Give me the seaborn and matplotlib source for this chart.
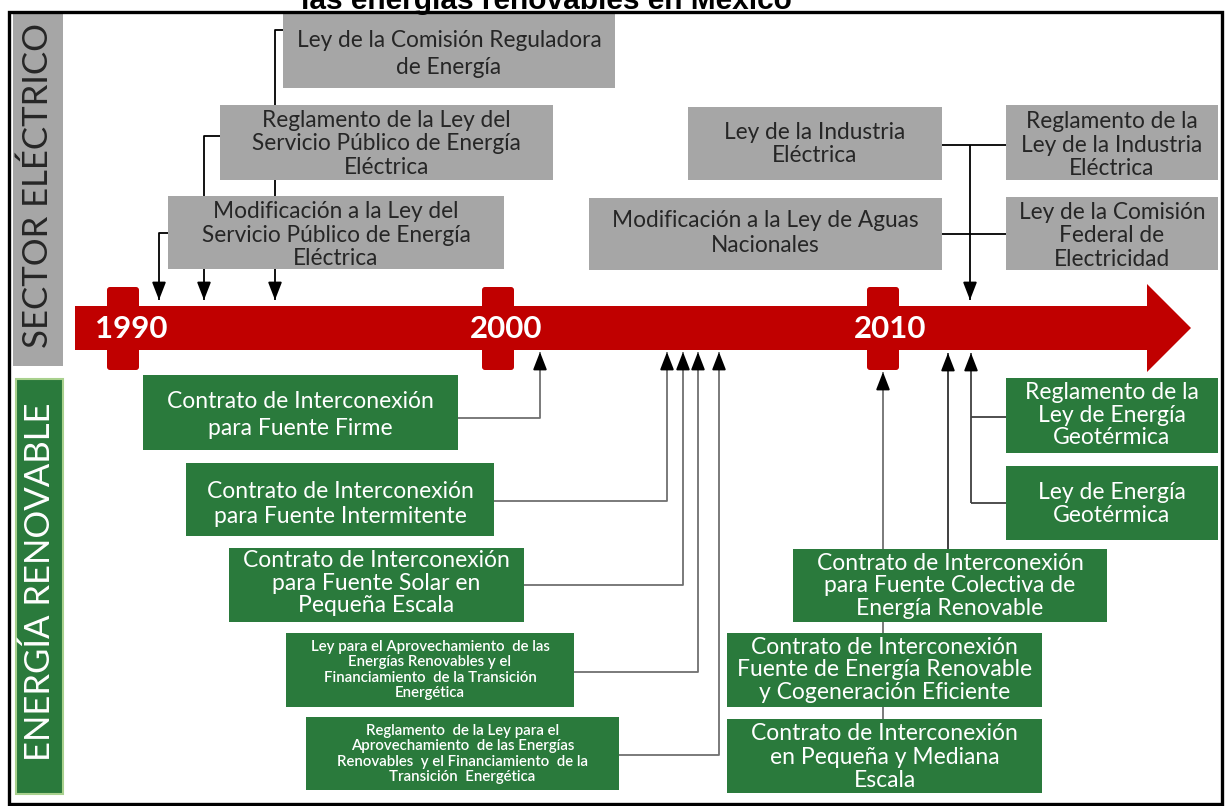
import matplotlib
matplotlib.use("Agg")
import matplotlib.pyplot as plt
from matplotlib.patches import Rectangle, Polygon, FancyBboxPatch
import seaborn as sns

sns.set_theme(style="white")
plt.rcParams["font.family"] = ["Lato", "DejaVu Sans"]

# ---------------- content ----------------
title_text = "las energías renovables en México"
years = ["1990", "2000", "2010"]
section_labels = ["SECTOR ELÉCTRICO", "ENERGÍA RENOVABLE"]

sector_electrico = [
    "Ley de la Comisión Reguladora\nde Energía",
    "Reglamento de la Ley del\nServicio Público de Energía\nEléctrica",
    "Modificación a la Ley del\nServicio Público de Energía\nEléctrica",
    "Ley de la Industria\nEléctrica",
    "Modificación a la Ley de Aguas\nNacionales",
    "Reglamento de la\nLey de la Industria\nEléctrica",
    "Ley de la Comisión\nFederal de\nElectricidad",
]

energia_renovable = [
    "Contrato de Interconexión\npara Fuente Firme",
    "Contrato de Interconexión\npara Fuente Intermitente",
    "Contrato de Interconexión\npara Fuente Solar en\nPequeña Escala",
    "Ley para el Aprovechamiento  de las\nEnergías Renovables y el\nFinanciamiento  de la Transición\nEnergética",
    "Reglamento  de la Ley para el\nAprovechamiento  de las Energías\nRenovables  y el Financiamiento  de la\nTransición  Energética",
    "Reglamento de la\nLey de Energía\nGeotérmica",
    "Ley de Energía\nGeotérmica",
    "Contrato de Interconexión\npara Fuente Colectiva de\nEnergía Renovable",
    "Contrato de Interconexión\nFuente de Energía Renovable\ny Cogeneración Eficiente",
    "Contrato de Interconexión\nen Pequeña y Mediana\nEscala",
]

# ---------------- layout (pixel space, y downwards) ----------------
year_cross_x = [123, 498, 883]
year_label_x = [131, 506, 890]

# (x0, y0, x1, y1, fontsize, linespacing, text_y)
gray_boxes = [
    (283, 14, 615, 88, 16.3, 1.4, 54),
    (220, 105, 553, 180, 16.3, 1.16, 144),
    (168, 196, 504, 269, 16.3, 1.12, 235),
    (688, 107, 942, 180, 16.3, 1.14, 144),
    (589, 198, 942, 270, 16.3, 1.18, 233),
    (1006, 105, 1218, 180, 16.3, 1.14, 145),
    (1006, 197, 1218, 270, 16.3, 1.12, 236),
]
green_boxes = [
    (143, 375, 458, 450, 16.5, 1.3, 415),
    (186, 463, 494, 536, 16.5, 1.22, 504),
    (229, 548, 524, 622, 16.5, 1.1, 583),
    (286, 633, 574, 707, 10.8, 1.12, 670),
    (306, 717, 619, 790, 10.8, 1.12, 754),
    (1006, 378, 1218, 453, 16.5, 1.1, 415),
    (1006, 466, 1218, 540, 16.5, 1.12, 504),
    (793, 549, 1107, 622, 16.5, 1.1, 586),
    (727, 633, 1042, 707, 16.5, 1.09, 670),
    (727, 719, 1042, 793, 16.5, 1.17, 757),
]

RED = "#c00000"
GRAY = "#a6a6a6"
GREEN = "#2a7a3c"
DARK = "#262626"
LINE_BOTTOM = "#707070"

fig = plt.figure(figsize=(12.26, 8.06), dpi=100)
ax = fig.add_axes([0, 0, 1, 1])
ax.set_xlim(0, 1226)
ax.set_ylim(806, 0)
ax.axis("off")

# title (cut by the top edge, as in the reference)
ax.text(546, 9, title_text, ha="center", va="baseline", fontsize=21.5,
        fontweight="bold", family=["Liberation Sans", "DejaVu Sans"],
        color="black", zorder=5, clip_on=False)

# frame
ax.add_patch(Rectangle((9, 12), 1213, 792, fill=False, ec="black", lw=2.4, zorder=6))

# side labels
ax.add_patch(Rectangle((13, 14), 50, 352, fc=GRAY, ec="none", zorder=2))
ax.text(38, 186, section_labels[0], rotation=90, ha="center", va="center",
        fontsize=25, color=DARK, zorder=3)
ax.add_patch(Rectangle((16, 379), 47, 415, fc=GREEN, ec="#a9d18e", lw=1.5, zorder=2))
ax.text(40, 582, section_labels[1], rotation=90, ha="center", va="center",
        fontsize=25, color="white", zorder=3)

# red timeline arrow
arrow_pts = [(75, 306), (1147, 306), (1147, 284), (1191, 328),
             (1147, 372), (1147, 350), (75, 350)]
ax.add_patch(Polygon(arrow_pts, closed=True, fc=RED, ec="none", zorder=2))
for cx in year_cross_x:
    ax.add_patch(FancyBboxPatch((cx - 16, 287), 32, 83,
                                boxstyle="round,pad=0,rounding_size=3",
                                fc=RED, ec="none", zorder=2))
for lx, yr in zip(year_label_x, years):
    ax.text(lx, 329, yr, ha="center", va="center", fontsize=22.5,
            fontweight="bold", color="white", zorder=3)


def connector(points, color, tip_color="black", lw=1.3):
    xs = [p[0] for p in points]
    ys = [p[1] for p in points]
    ax.plot(xs, ys, color=color, lw=lw, zorder=1, solid_capstyle="butt")
    (x1, y1), (x2, y2) = points[-2], points[-1]
    d = 1 if y2 > y1 else -1
    ax.annotate("", xy=(x2, y2), xytext=(x2, y2 - d * 12),
                arrowprops=dict(arrowstyle="-|>,head_length=0.9,head_width=0.35",
                                color=tip_color, lw=lw, shrinkA=0, shrinkB=0),
                zorder=4)


def plain(points, color, lw=1.3):
    ax.plot([p[0] for p in points], [p[1] for p in points], color=color,
            lw=lw, zorder=1, solid_capstyle="butt")


# top connectors
connector([(283, 30), (275, 30), (275, 300)], "black")
connector([(222, 136), (204, 136), (204, 300)], "black")
connector([(168, 233), (159, 233), (159, 300)], "black")
plain([(942, 145), (1006, 145)], "black")
plain([(942, 234), (1006, 234)], "black")
connector([(970, 145), (970, 300)], "black")

# bottom connectors
connector([(458, 418), (540, 418), (540, 352)], LINE_BOTTOM)
connector([(494, 501), (667, 501), (667, 352)], LINE_BOTTOM)
connector([(524, 585), (683, 585), (683, 352)], LINE_BOTTOM)
connector([(574, 672), (698, 672), (698, 352)], LINE_BOTTOM)
connector([(619, 755), (719, 755), (719, 352)], LINE_BOTTOM)
plain([(1006, 417), (971, 417)], "#404040")
plain([(1006, 503), (971, 503)], "#404040")
connector([(971, 503), (971, 353)], "#404040")
connector([(948, 549), (948, 353)], "#303030")
connector([(883, 719), (883, 372)], LINE_BOTTOM)

# boxes
for (x0, y0, x1, y1, fs, ls, ty), txt in zip(gray_boxes, sector_electrico):
    ax.add_patch(Rectangle((x0, y0), x1 - x0, y1 - y0, fc=GRAY, ec="none", zorder=2))
    ax.text((x0 + x1) / 2, ty, txt, ha="center", va="center",
            multialignment="center", fontsize=fs, linespacing=ls,
            color=DARK, zorder=3)

for (x0, y0, x1, y1, fs, ls, ty), txt in zip(green_boxes, energia_renovable):
    ax.add_patch(Rectangle((x0, y0), x1 - x0, y1 - y0, fc=GREEN, ec="none", zorder=2))
    ax.text((x0 + x1) / 2, ty, txt, ha="center", va="center",
            multialignment="center", fontsize=fs, linespacing=ls,
            color="white", zorder=3,
            fontweight="semibold" if fs < 12 else "normal")

fig.savefig("out.png", dpi=100)
